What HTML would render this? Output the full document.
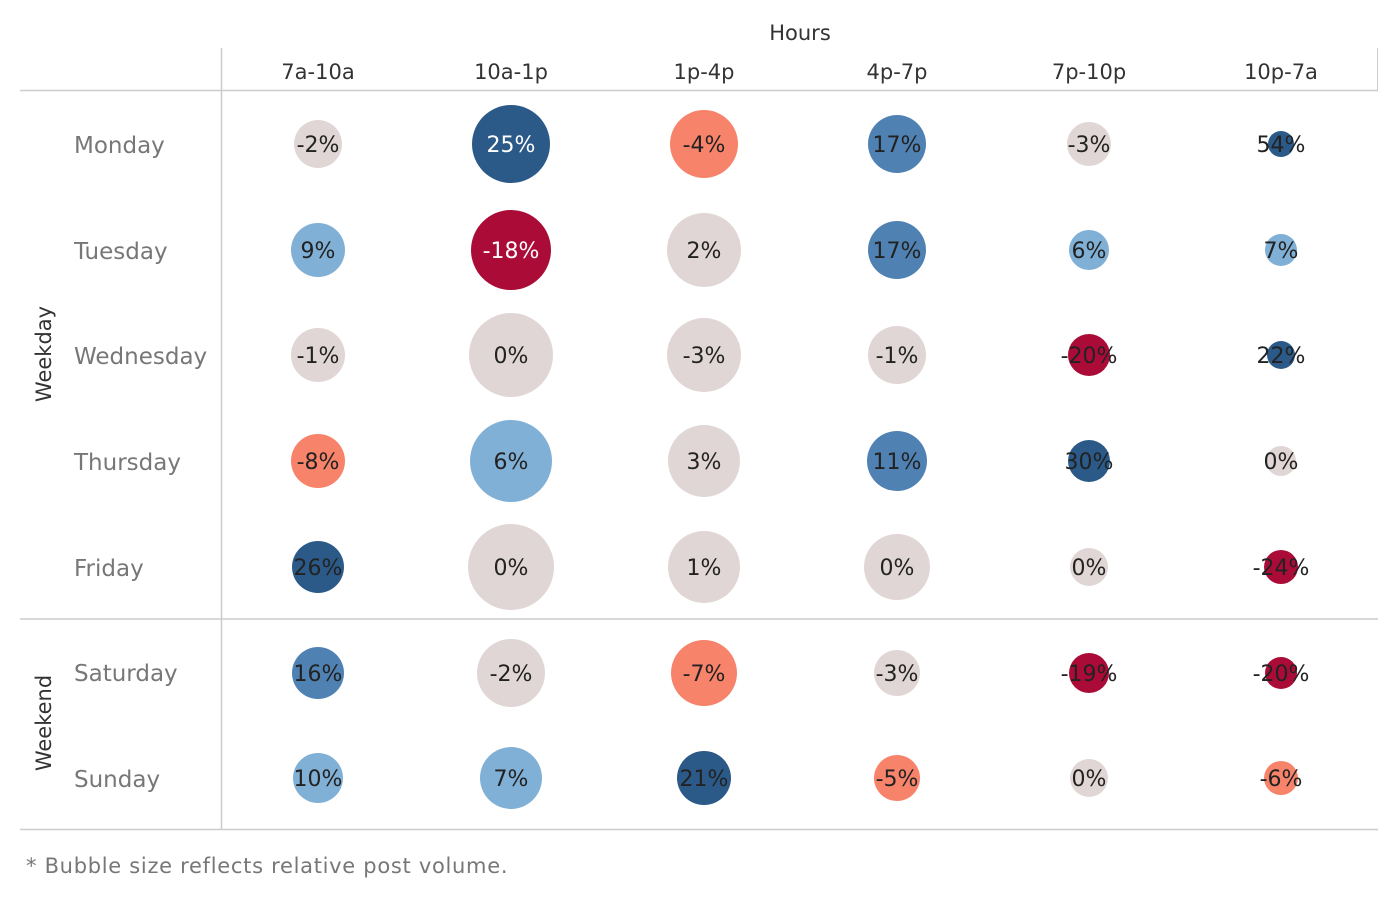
<!DOCTYPE html>
<html><head><meta charset="utf-8"><style>
body{margin:0;background:#fff;width:1400px;height:900px;overflow:hidden;}
</style></head><body>
<svg width="1400" height="900" xmlns="http://www.w3.org/2000/svg" font-family="DejaVu Sans, Liberation Sans, sans-serif">
<rect width="1400" height="900" fill="#fff"/>
<line x1="221.5" y1="48" x2="221.5" y2="830" stroke="#ccc" stroke-width="1.5"/>
<line x1="20" y1="90.5" x2="1378" y2="90.5" stroke="#ccc" stroke-width="1.5"/>
<line x1="20" y1="619" x2="1378" y2="619" stroke="#ccc" stroke-width="1.5"/>
<line x1="20" y1="829.5" x2="1378" y2="829.5" stroke="#ccc" stroke-width="1.5"/>
<line x1="1377.5" y1="48" x2="1377.5" y2="90" stroke="#ccc" stroke-width="1"/>
<text x="800" y="40" font-size="21" fill="#333" text-anchor="middle">Hours</text>
<g font-size="21" fill="#333" text-anchor="middle">
<text x="318" y="79">7a-10a</text><text x="511" y="79">10a-1p</text><text x="704" y="79">1p-4p</text>
<text x="897" y="79">4p-7p</text><text x="1089" y="79">7p-10p</text><text x="1281" y="79">10p-7a</text>
</g>
<g font-size="23" fill="#777">
<text x="74" y="153">Monday</text><text x="74" y="259">Tuesday</text><text x="74" y="364">Wednesday</text>
<text x="74" y="470">Thursday</text><text x="74" y="576">Friday</text><text x="74" y="681">Saturday</text><text x="74" y="787">Sunday</text>
</g>
<text transform="translate(51,354) rotate(-90)" font-size="21" fill="#333" text-anchor="middle">Weekday</text>
<text transform="translate(51,723) rotate(-90)" font-size="21" fill="#333" text-anchor="middle">Weekend</text>

<g>
<circle cx="318" cy="144" r="24" fill="#e0d6d5"/>
<circle cx="511" cy="144" r="39" fill="#2b5a88"/>
<circle cx="704" cy="144" r="34" fill="#f8836b"/>
<circle cx="897" cy="144" r="29" fill="#4f82b3"/>
<circle cx="1089" cy="144" r="22" fill="#e0d6d5"/>
<circle cx="1281" cy="144" r="13" fill="#2b5a88"/>

<circle cx="318" cy="250" r="27" fill="#80b0d6"/>
<circle cx="511" cy="250" r="40" fill="#ab0c37"/>
<circle cx="704" cy="250" r="37" fill="#e0d6d5"/>
<circle cx="897" cy="250" r="29" fill="#4f82b3"/>
<circle cx="1089" cy="250" r="20" fill="#80b0d6"/>
<circle cx="1281" cy="250" r="16" fill="#80b0d6"/>

<circle cx="318" cy="355" r="27" fill="#e0d6d5"/>
<circle cx="511" cy="355" r="42" fill="#e0d6d5"/>
<circle cx="704" cy="355" r="37" fill="#e0d6d5"/>
<circle cx="897" cy="355" r="29" fill="#e0d6d5"/>
<circle cx="1089" cy="355" r="21" fill="#ab0c37"/>
<circle cx="1281" cy="355" r="14" fill="#2b5a88"/>

<circle cx="318" cy="461" r="27" fill="#f8836b"/>
<circle cx="511" cy="461" r="41" fill="#80b0d6"/>
<circle cx="704" cy="461" r="36" fill="#e0d6d5"/>
<circle cx="897" cy="461" r="30" fill="#4f82b3"/>
<circle cx="1089" cy="461" r="21" fill="#2b5a88"/>
<circle cx="1281" cy="461" r="15" fill="#e0d6d5"/>

<circle cx="318" cy="567" r="26" fill="#2b5a88"/>
<circle cx="511" cy="567" r="43" fill="#e0d6d5"/>
<circle cx="704" cy="567" r="36" fill="#e0d6d5"/>
<circle cx="897" cy="567" r="33" fill="#e0d6d5"/>
<circle cx="1089" cy="567" r="19" fill="#e0d6d5"/>
<circle cx="1281" cy="567" r="17" fill="#ab0c37"/>

<circle cx="318" cy="673" r="26" fill="#4f82b3"/>
<circle cx="511" cy="673" r="34" fill="#e0d6d5"/>
<circle cx="704" cy="673" r="33" fill="#f8836b"/>
<circle cx="897" cy="673" r="23" fill="#e0d6d5"/>
<circle cx="1089" cy="673" r="20" fill="#ab0c37"/>
<circle cx="1281" cy="673" r="16" fill="#ab0c37"/>

<circle cx="318" cy="778" r="25" fill="#80b0d6"/>
<circle cx="511" cy="778" r="31" fill="#80b0d6"/>
<circle cx="704" cy="778" r="27" fill="#2b5a88"/>
<circle cx="897" cy="778" r="23" fill="#f8836b"/>
<circle cx="1089" cy="778" r="19" fill="#e0d6d5"/>
<circle cx="1281" cy="778" r="17" fill="#f8836b"/>
</g>

<g font-size="22" fill="#222" text-anchor="middle">
<text x="318" y="152">-2%</text><text x="511" y="152" fill="#fff">25%</text><text x="704" y="152">-4%</text><text x="897" y="152">17%</text><text x="1089" y="152">-3%</text><text x="1281" y="152">54%</text>
<text x="318" y="258">9%</text><text x="511" y="258" fill="#fff">-18%</text><text x="704" y="258">2%</text><text x="897" y="258">17%</text><text x="1089" y="258">6%</text><text x="1281" y="258">7%</text>
<text x="318" y="363">-1%</text><text x="511" y="363">0%</text><text x="704" y="363">-3%</text><text x="897" y="363">-1%</text><text x="1089" y="363">-20%</text><text x="1281" y="363">22%</text>
<text x="318" y="469">-8%</text><text x="511" y="469">6%</text><text x="704" y="469">3%</text><text x="897" y="469">11%</text><text x="1089" y="469">30%</text><text x="1281" y="469">0%</text>
<text x="318" y="575">26%</text><text x="511" y="575">0%</text><text x="704" y="575">1%</text><text x="897" y="575">0%</text><text x="1089" y="575">0%</text><text x="1281" y="575">-24%</text>
<text x="318" y="681">16%</text><text x="511" y="681">-2%</text><text x="704" y="681">-7%</text><text x="897" y="681">-3%</text><text x="1089" y="681">-19%</text><text x="1281" y="681">-20%</text>
<text x="318" y="786">10%</text><text x="511" y="786">7%</text><text x="704" y="786">21%</text><text x="897" y="786">-5%</text><text x="1089" y="786">0%</text><text x="1281" y="786">-6%</text>
</g>

<text x="26" y="873" font-size="21" fill="#777" letter-spacing="0.7">* Bubble size reflects relative post volume.</text>
</svg>
</body></html>
